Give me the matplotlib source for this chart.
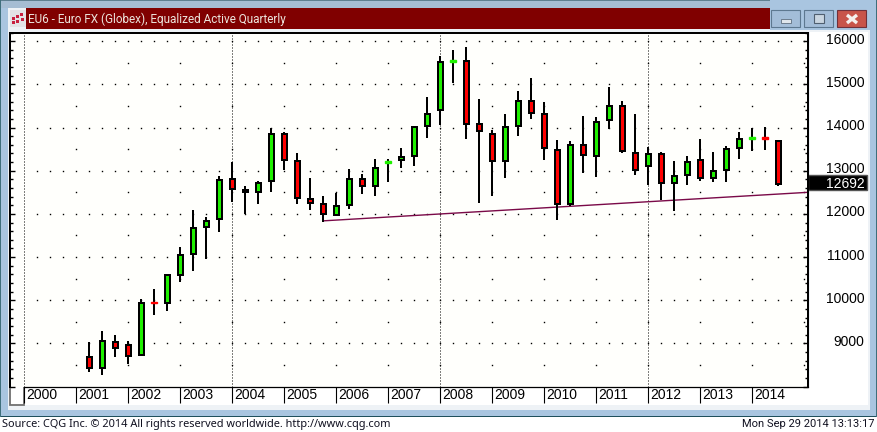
import numpy as np
import matplotlib
matplotlib.use('Agg')
import matplotlib.pyplot as plt
from matplotlib.patches import Rectangle

###########################
title = 'EU6 - Euro FX (Globex), Equalized Active Quarterly'
source = 'Source: CQG Inc. \u00a9 2014 All rights reserved worldwide. http://www.cqg.com'
stamp = 'Mon Sep 29 2014 13:13:17'
years = list(range(2000, 2015))
price_ticks = [9000, 10000, 11000, 12000, 13000, 14000, 15000, 16000]
last_price = 12692
first_bar = 2001.25         #first quarter drawn

opens = [8685, 8439, 9031, 8962, 8739, 9950, 9939, 10585, 11069, 11692, 11877, 12816, 12562, 12500,
         12754, 13854, 13231, 12354, 12239, 11985, 12215, 12815, 12654, 13180, 13239, 13346, 14039,
         14408, 15510, 15538, 14085, 13854, 13231, 14039, 14615, 14315, 13485, 12239, 13600, 13347,
         14177, 14500, 13416, 13116, 13393, 12723, 12908, 13254, 12839, 13023, 13531, 13735, 13770, 13693]
highs = [9031, 9285, 9193, 9054, 10023, 10254, 10600, 11223, 12100, 11931, 12885, 13193, 12654, 12769,
         13992, 13900, 13416, 12839, 12423, 12492, 13046, 12931, 13277, 13277, 13531, 14015, 14708,
         15654, 15792, 15862, 14662, 13946, 14315, 14846, 15146, 14592, 13715, 13693, 14270, 14247,
         14939, 14616, 14316, 13554, 13439, 13231, 13347, 13739, 13439, 13577, 13900, 13993, 14016, 13716]
lows = [8347, 8270, 8693, 8523, 8716, 9654, 9746, 10416, 10670, 10946, 11570, 12285, 12000, 12239,
        12516, 13023, 12239, 12100, 11823, 11946, 12123, 12469, 12423, 12746, 13069, 13115, 13762,
        14062, 15031, 13738, 12262, 12423, 12838, 13808, 14200, 13254, 11869, 12193, 12954, 12862,
        13970, 13416, 12908, 12677, 12331, 12077, 12677, 12770, 12746, 12746, 13277, 13462, 13485, 12654]
closes = [8439, 9054, 8900, 8716, 9931, 9945, 10577, 11039, 11662, 11846, 12793, 12585, 12500, 12723,
          13854, 13254, 12377, 12262, 12008, 12193, 12815, 12654, 13069, 13225, 13323, 14015, 14315,
          15515, 15555, 14085, 13923, 13231, 14015, 14615, 14338, 13531, 12239, 13600, 13370, 14131,
          14500, 13462, 13023, 13393, 12723, 12885, 13208, 12839, 13000, 13508, 13739, 13780, 13725, 12692]

trend_x = [2005.75, 2015.06]
trend_y = [11839, 12499]

###########################
W, H = 877, 432
up_col = '#1ff000'
down_col = '#ff0000'

fig = plt.figure(figsize=(W/100., H/100.), dpi=100, facecolor='white')

#window chrome, in pixels from the top left
bg = fig.add_axes([0, 0, 1, 1], zorder=0)
bg.set_xlim(0, W)
bg.set_ylim(H, 0)
bg.axis('off')

def box(x0, y0, x1, y1, col, edge='none', lw=0):
    bg.add_patch(Rectangle((x0, y0), x1-x0, y1-y0, facecolor=col, edgecolor=edge, linewidth=lw))

box(0, 0, W, 417, '#a9c5e0')
box(0, 0, W, 8, '#a6bdd3')
box(0, 0, W, 1, '#5f7f90')
box(0, 416, W, 417, '#1f4f5c')
box(876, 0, W, 417, '#3f6f7c')
box(0, 0, 1, 417, '#3f6f7c')
box(8, 8, 870, 410, '#eef2f6')
box(26, 8, 770, 29, '#800000')
box(770, 0, 876, 30, '#a9c5e0')
box(810, 32, 868, 405, 'white')
box(10, 387, 810, 405, 'white')

#title icon
box(10, 10, 26, 27, '#e3e3e6')
for ix, iy in [(12, 17), (16, 15), (20, 13), (12, 21), (16, 20), (21, 18)]:
    box(ix, iy, ix+3, iy+3, '#c8203f')

#window buttons
box(771, 10, 800, 27, '#a3bdd8', '#5d7890', 0.8)
box(781, 19, 791, 23, '#dfe6ec', '#5f6f80', 0.6)
box(804, 10, 833, 27, '#a3bdd8', '#5d7890', 0.8)
box(814, 14, 824, 23, '#c9d5e0', '#4f5f70', 0.8)
box(837, 10, 866, 27, '#c8544a', '#70303a', 0.8)
bg.plot([847, 857], [15, 23], color='#f4f0ee', lw=2.4, solid_capstyle='butt')
bg.plot([847, 857], [23, 15], color='#f4f0ee', lw=2.4, solid_capstyle='butt')

bg.text(28, 19, title, color='#ece4dc', fontsize=8.5, family='Roboto', va='center', ha='left')
bg.text(2, 424, source, color='#101020', fontsize=7.87, family='Noto Sans', va='center', ha='left')
bg.text(875, 424, stamp, color='#101020', fontsize=8.05, family='Roboto', va='center', ha='right')

###########################
#chart, scales fixed from the pixel positions of the years and prices
px_year = 52.
px_price = 43.33/1000.
left, right, top, bottom = 10., 807.5, 32.5, 387.

ax = fig.add_axes([left/W, 1-bottom/H, (right-left)/W, (bottom-top)/H], zorder=1)
ax.set_facecolor('#fffffc')
ax.set_xlim(2000+(left-24.4)/px_year, 2000+(right-24.4)/px_year)
ax.set_ylim(16000-(bottom-40)/px_price, 16000-(top-40)/px_price)

for s in ax.spines.values():
    s.set_linewidth(1.44)
ax.spines['bottom'].set_linewidth(0.9)
ax.spines['bottom'].set_bounds(2000, ax.get_xlim()[1])

ax.yaxis.set_ticks_position('both')
ax.set_yticks(np.arange(8000, 16001, 1000))
ax.set_yticks(np.arange(8000, 16201, 200), minor=True)
ax.tick_params(axis='y', which='major', direction='in', length=3.8, width=1.0, labelleft=False, labelright=False)
ax.tick_params(axis='y', which='minor', direction='in', length=2.0, width=1.0)

ax.set_xticks(years)
ax.set_xticklabels([])
ax.tick_params(axis='x', which='major', direction='out', length=11.5, width=0.8, top=False)

#dotted grid: quarterly dots on whole thousands, yearly dots on the half thousands
quarters = np.arange(2000.25, 2015.01, 0.25)
for p in np.arange(8500, 16001, 500):
    xs = quarters if p % 1000 == 0 else np.array(years[1:]+[2015])
    ax.plot(xs, [p]*len(xs), ls='none', marker='s', ms=1.0, mew=0, color='black', zorder=1)
for yr in [2000, 2004, 2008, 2012]:
    ax.axvline(yr, color='black', lw=0.72, ls=(0, (1, 2)), zorder=1)

ax.plot(trend_x, trend_y, color='#7a0a48', lw=1.0, zorder=2, solid_capstyle='butt')

#candles
xpos = first_bar+np.arange(len(opens))*0.25
wick_lw = 1.44
body_w = 5./px_year
ax.vlines(xpos, lows, highs, color='black', lw=wick_lw, zorder=3)
for x, o, c in zip(xpos, opens, closes):
    col = up_col if c > o else down_col
    if abs(c-o) < 50:
        #flat quarter, coloured dash with no outline
        ax.bar(x, abs(c-o), bottom=min(o, c), width=6./px_year, color=col, edgecolor=col, linewidth=1.0, zorder=4)
    else:
        ax.bar(x, abs(c-o), bottom=min(o, c), width=body_w, color=col, edgecolor='black', linewidth=1.44, zorder=4)

#price labels
for p in price_ticks:
    ax.annotate(str(p), xy=(1, p), xycoords=('axes fraction', 'data'), xytext=(57, 1.5), textcoords='offset pixels',
                ha='right', va='center', fontsize=10, family='Liberation Sans', color='black', annotation_clip=False)

#last price box
ax.annotate(str(last_price), xy=(1, last_price), xycoords=('axes fraction', 'data'), xytext=(57, 0), textcoords='offset pixels',
            ha='right', va='center', fontsize=10, family='Liberation Sans', color='white', annotation_clip=False, zorder=6)
box(808, 175, 867, 190, 'black', '#555555', 1.0)

#year labels
for yr in years:
    ax.annotate(str(yr), xy=(yr, 0), xycoords=('data', 'axes fraction'), xytext=(2, -8), textcoords='offset pixels',
                ha='left', va='center', fontsize=10, family='Liberation Sans', color='black', annotation_clip=False)

#little box at the start of the date strip
box(9.5, 386, 24, 405, 'white', '#707070', 1.3)

fig.savefig('out.png', dpi=100)
